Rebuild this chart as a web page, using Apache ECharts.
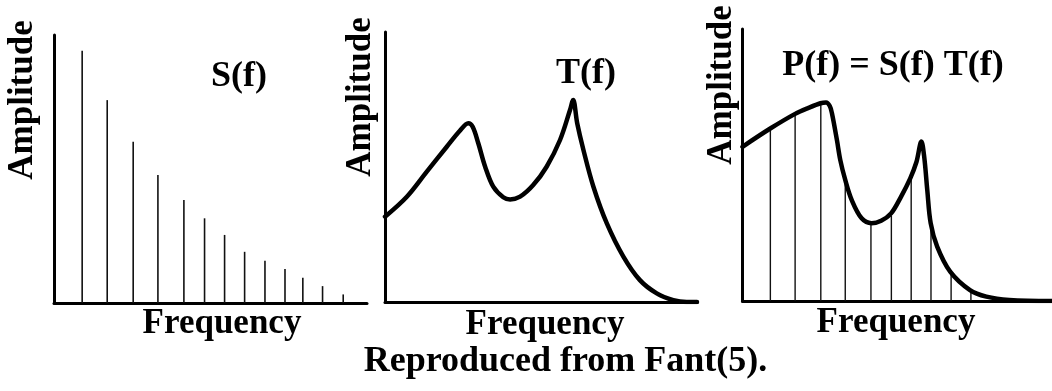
<!DOCTYPE html>
<html>
<head>
<meta charset="utf-8">
<script src="https://cdn.jsdelivr.net/npm/echarts@6/dist/echarts.min.js"></script>
<style>
  html, body { margin: 0; padding: 0; background: #fff; }
  #main { width: 1052px; height: 391px; }
</style>
</head>
<body>
<div id="main"></div>
<script>
// harmonic frequencies, 0-100 along each frequency axis
var harmonics = [9, 17, 25.3, 33.2, 41.5, 48.1, 54.5, 60.9, 67.4, 73.8, 79.5, 85.8, 92.4];
// S(f) line spectrum amplitudes, 0-100
var sourceAmp = [94.1, 75.7, 60.2, 47.8, 38.4, 31.6, 25.4, 19.1, 15.8, 12.7, 9.4, 6.3, 3.2];
// T(f) transfer curve [freq, amp]
var transferCurve = [
  [0, 31.6], [7, 39.0], [13.4, 48.3], [19.8, 57.5], [24, 63.4], [26.7, 66.2],
  [28.1, 64.9], [29.9, 58.8], [32.1, 50.1], [34.7, 42.7], [37.9, 38.8], [40.1, 38.0],
  [43.3, 39.0], [47.5, 43.3], [51.8, 50.1], [56.1, 60.0], [59.3, 71.1], [60.3, 74.8],
  [61.6, 66.2], [63.6, 56.3], [66.8, 42.7], [71.1, 29.1], [76.4, 16.8], [81.7, 8.1],
  [87.1, 3.2], [92.4, 0.7], [96.7, 0], [100, 0]
];
// P(f) envelope [freq, amp]
var outputCurve = [
  [0, 56.7], [9.1, 63.5], [17, 68.8], [21.5, 71.1], [25.2, 72.7], [27, 73.0],
  [28.2, 71.7], [28.9, 69.0], [30.5, 59.2], [31.6, 51.8], [33.2, 44.5], [35.3, 37.1],
  [38.5, 30.4], [41.7, 28.6], [44.8, 29.5], [48, 32.2], [51.2, 38.3], [54.2, 45.1],
  [56.2, 51.1], [57.8, 58.6], [58.7, 53.1], [59.7, 40.8], [60.8, 28.6], [62.9, 20.0],
  [67.1, 10.8], [73.5, 4.0], [78.8, 1.6], [86.2, 0.4], [100, 0]
];
// P(f) harmonic amplitudes (the ten visible ones)
var outputAmp = [63.5, 69.0, 72.7, 43.3, 28.6, 31.3, 45.1, 26.1, 10.2, 4.0];

var serif = '"Liberation Serif", "Times New Roman", serif';

function pairs(xs, ys) {
  return ys.map(function (v, i) { return [xs[i], v]; });
}

function axisX(idx) {
  return {
    type: 'value', gridIndex: idx, min: 0, max: 100,
    axisLine: { lineStyle: { color: '#000', width: 3 } },
    axisTick: { show: false }, axisLabel: { show: false }, splitLine: { show: false }
  };
}
function axisY(idx) {
  return {
    type: 'value', gridIndex: idx, min: 0, max: 100,
    axisLine: { show: true, lineStyle: { color: '#000', width: 3 } },
    axisTick: { show: false }, axisLabel: { show: false }, splitLine: { show: false }
  };
}
function label(text, x, y, size, rot) {
  return {
    type: 'text', x: x, y: y, rotation: rot || 0,
    style: {
      text: text, fill: '#000', font: 'bold ' + size + 'px ' + serif,
      align: 'center', verticalAlign: 'middle'
    }
  };
}

var myChart = echarts.init(document.getElementById('main'));
var option = {
  animation: false,
  backgroundColor: '#fff',
  grid: [
    { left: 54, top: 35, width: 313, height: 268 },
    { left: 385, top: 32, width: 312, height: 270 },
    { left: 742.5, top: 29, width: 314, height: 272 }
  ],
  xAxis: [axisX(0), axisX(1), axisX(2)],
  yAxis: [axisY(0), axisY(1), axisY(2)],
  series: [
    {
      type: 'bar', xAxisIndex: 0, yAxisIndex: 0, barWidth: 1.6,
      itemStyle: { color: '#111' },
      data: pairs(harmonics, sourceAmp)
    },
    {
      type: 'line', xAxisIndex: 1, yAxisIndex: 1, showSymbol: false, smooth: 0.35,
      lineStyle: { color: '#000', width: 4.5, join: 'round', cap: 'round' },
      data: transferCurve
    },
    {
      type: 'bar', xAxisIndex: 2, yAxisIndex: 2, barWidth: 1.4,
      itemStyle: { color: '#111' },
      data: pairs(harmonics, outputAmp)
    },
    {
      type: 'line', xAxisIndex: 2, yAxisIndex: 2, showSymbol: false, smooth: 0.35, z: 5,
      lineStyle: { color: '#000', width: 4.5, join: 'round', cap: 'round' },
      data: outputCurve
    }
  ],
  graphic: [
    label('Amplitude', 22.5, 100, 35, Math.PI / 2),
    label('Amplitude', 360.5, 97, 35, Math.PI / 2),
    label('Amplitude', 721.5, 85, 35, Math.PI / 2),
    label('S(f)', 239, 77, 36),
    label('T(f)', 586, 74, 36),
    label('P(f) = S(f) T(f)', 893, 66, 36),
    label('Frequency', 222, 324, 35),
    label('Frequency', 545, 325, 35),
    label('Frequency', 896, 322.5, 35),
    label('Reproduced from Fant(5).', 565.5, 362, 36)
  ]
};
myChart.setOption(option);
</script>
</body>
</html>
